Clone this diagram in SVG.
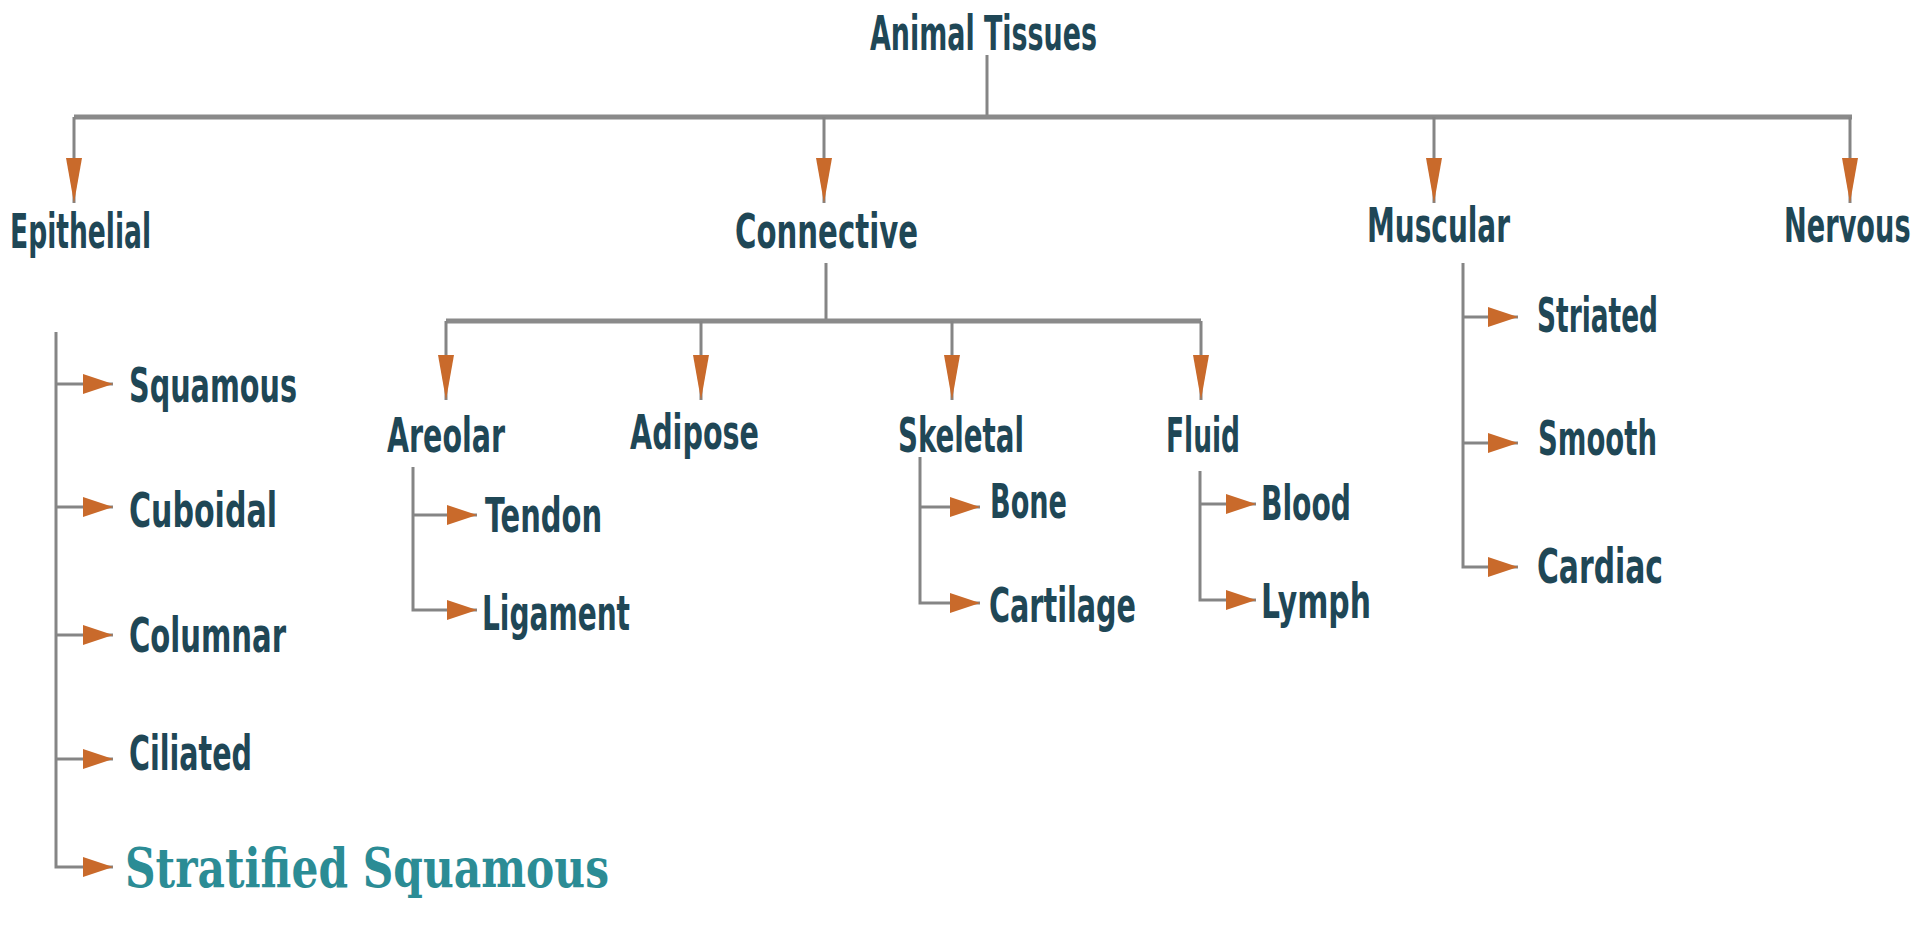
<svg xmlns="http://www.w3.org/2000/svg" width="1920" height="926" viewBox="0 0 1920 926">
<style>
.t{font-family:"DejaVu Sans Condensed","DejaVu Sans","Liberation Sans",sans-serif;font-weight:bold;font-size:48px;fill:#1f4756}
.s{font-family:"DejaVu Serif","Liberation Serif",serif;font-weight:bold;font-size:54px;fill:#2b8c95}
.ln{fill:none;stroke:#858585;stroke-width:3}
.thick{fill:none;stroke:#8a8a8a;stroke-width:5}
.dr{fill:none;stroke:#858585;stroke-width:3;marker-end:url(#drop)}
.sd{fill:none;stroke:#858585;stroke-width:3;marker-end:url(#side)}
</style>
<defs>
<marker id="drop" viewBox="0 0 45 16" refX="45" refY="8" markerWidth="45" markerHeight="16" markerUnits="userSpaceOnUse" orient="auto">
<path d="M0,0 L45,8 L0,16 z" fill="#c96a2b"/>
</marker>
<marker id="side" viewBox="0 0 30 20" refX="30" refY="10" markerWidth="30" markerHeight="20" markerUnits="userSpaceOnUse" orient="auto">
<path d="M0,0 L30,10 L0,20 z" fill="#c96a2b"/>
</marker>
</defs>
<rect width="1920" height="926" fill="#ffffff"/>
<g id="connectors">
<path class="ln" d="M987,55 V117"/>
<path class="thick" d="M74,117 H1852"/>
<path class="dr" d="M74,117 V203"/>
<path class="dr" d="M824,117 V203"/>
<path class="dr" d="M1434,117 V203"/>
<path class="dr" d="M1850,117 V203"/>
<path class="ln" d="M826,263 V321"/>
<path class="thick" d="M446,321 H1201"/>
<path class="dr" d="M446,321 V400"/>
<path class="dr" d="M701,321 V400"/>
<path class="dr" d="M952,321 V400"/>
<path class="dr" d="M1201,321 V400"/>
<path class="sd" d="M56,332 V867 H113"/>
<path class="sd" d="M56,384 H113"/>
<path class="sd" d="M56,507 H113"/>
<path class="sd" d="M56,635 H113"/>
<path class="sd" d="M56,759 H113"/>
<path class="sd" d="M413,467 V610 H477"/>
<path class="sd" d="M413,515 H477"/>
<path class="sd" d="M920,457 V603 H980"/>
<path class="sd" d="M920,507 H980"/>
<path class="sd" d="M1200,471 V600 H1256"/>
<path class="sd" d="M1200,504 H1256"/>
<path class="sd" d="M1463,263 V567 H1518"/>
<path class="sd" d="M1463,317 H1518"/>
<path class="sd" d="M1463,443 H1518"/>
</g>
<g id="animal-tissues"><text class="t" x="870" y="50" textLength="227" lengthAdjust="spacingAndGlyphs">Animal Tissues</text></g>
<g id="epithelial"><text class="t" x="10" y="248" textLength="141" lengthAdjust="spacingAndGlyphs">Epithelial</text></g>
<g id="connective"><text class="t" x="735" y="248" textLength="183" lengthAdjust="spacingAndGlyphs">Connective</text></g>
<g id="muscular"><text class="t" x="1367" y="242" textLength="143" lengthAdjust="spacingAndGlyphs">Muscular</text></g>
<g id="nervous" transform="translate(1784,242) scale(0.63,1)"><text class="t" x="0" y="0">Nervous</text></g>
<g id="squamous"><text class="t" x="129" y="402" textLength="168" lengthAdjust="spacingAndGlyphs">Squamous</text></g>
<g id="cuboidal"><text class="t" x="129" y="527" textLength="148" lengthAdjust="spacingAndGlyphs">Cuboidal</text></g>
<g id="columnar"><text class="t" x="129" y="652" textLength="157" lengthAdjust="spacingAndGlyphs">Columnar</text></g>
<g id="ciliated"><text class="t" x="129" y="770" textLength="123" lengthAdjust="spacingAndGlyphs">Ciliated</text></g>
<g id="stratified-squamous"><text class="s" x="125" y="887" textLength="484" lengthAdjust="spacingAndGlyphs">Stratified Squamous</text></g>
<g id="areolar"><text class="t" x="387" y="452" textLength="118" lengthAdjust="spacingAndGlyphs">Areolar</text></g>
<g id="adipose"><text class="t" x="630" y="449" textLength="129" lengthAdjust="spacingAndGlyphs">Adipose</text></g>
<g id="skeletal"><text class="t" x="898" y="452" textLength="126" lengthAdjust="spacingAndGlyphs">Skeletal</text></g>
<g id="fluid"><text class="t" x="1166" y="452" textLength="74" lengthAdjust="spacingAndGlyphs">Fluid</text></g>
<g id="tendon"><text class="t" x="485" y="532" textLength="117" lengthAdjust="spacingAndGlyphs">Tendon</text></g>
<g id="ligament"><text class="t" x="482" y="630" textLength="148" lengthAdjust="spacingAndGlyphs">Ligament</text></g>
<g id="bone"><text class="t" x="990" y="518" textLength="77" lengthAdjust="spacingAndGlyphs">Bone</text></g>
<g id="cartilage"><text class="t" x="989" y="622" textLength="147" lengthAdjust="spacingAndGlyphs">Cartilage</text></g>
<g id="blood"><text class="t" x="1261" y="520" textLength="90" lengthAdjust="spacingAndGlyphs">Blood</text></g>
<g id="lymph"><text class="t" x="1261" y="618" textLength="110" lengthAdjust="spacingAndGlyphs">Lymph</text></g>
<g id="striated"><text class="t" x="1537" y="332" textLength="121" lengthAdjust="spacingAndGlyphs">Striated</text></g>
<g id="smooth"><text class="t" x="1538" y="455" textLength="119" lengthAdjust="spacingAndGlyphs">Smooth</text></g>
<g id="cardiac"><text class="t" x="1537" y="583" textLength="126" lengthAdjust="spacingAndGlyphs">Cardiac</text></g>
</svg>
